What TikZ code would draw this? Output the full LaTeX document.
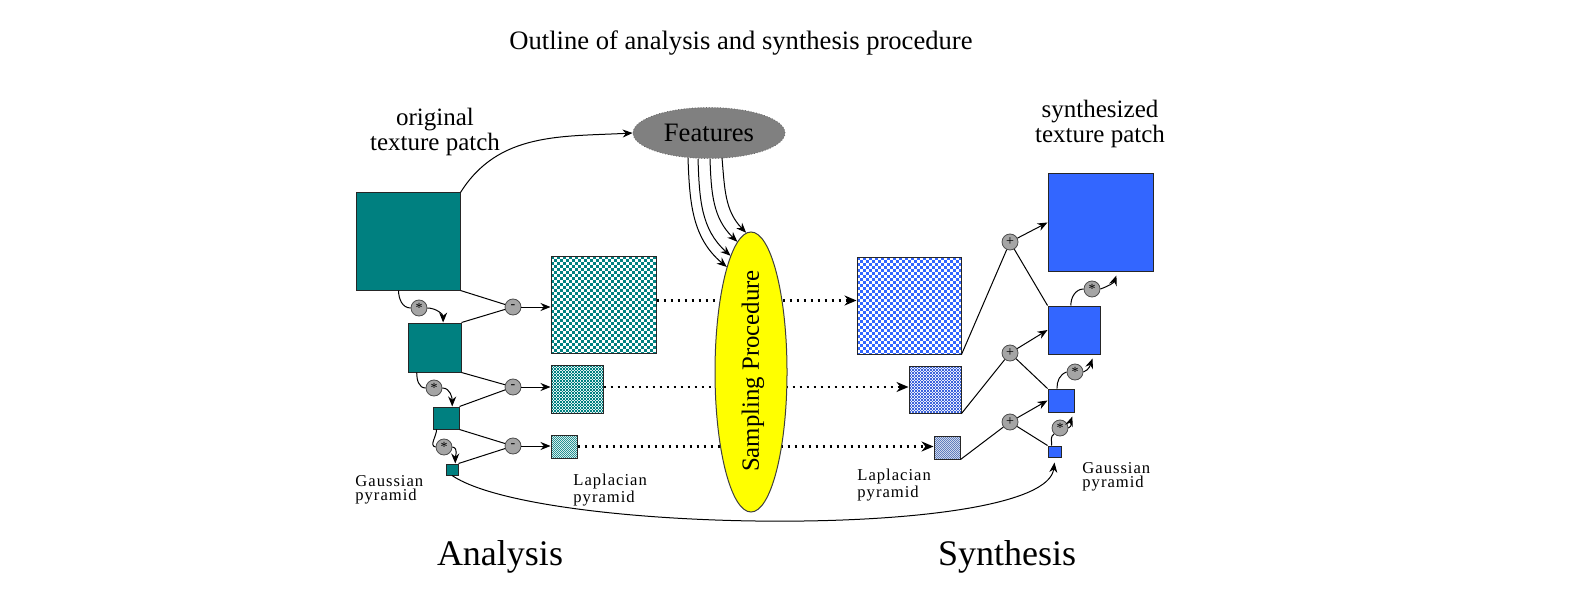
\documentclass[tikz,border=0pt]{standalone}
\usepackage{fontspec}
\setmainfont{Liberation Serif}
\newfontfamily\spacedfont[LetterSpace=6]{Liberation Serif}
\usetikzlibrary{calc,arrows.meta,shapes.geometric}
\definecolor{tealc}{RGB}{0,128,128}
\definecolor{bluec}{RGB}{51,102,255}
\definecolor{opgray}{RGB}{165,165,165}
\definecolor{featgray}{RGB}{128,128,128}
\definecolor{yel}{RGB}{255,255,0}
\definecolor{sl1c}{RGB}{60,100,220}
\definecolor{sl2c}{RGB}{95,125,190}
\tikzset{
  solidbox/.style={draw=black!85, line width=0.5pt, inner sep=0pt, fill=#1},
  % checker: count, square size (px), square colour, background
  chk/.style n args={4}{draw=black!85, line width=0.5pt, inner sep=0pt, fill=#4,
     path picture={
       \foreach \i in {0,...,#1}{
         \foreach \j in {0,...,#1}{
           \pgfmathtruncatemacro\chkpar{mod(\i+\j,2)}
           \ifnum\chkpar=0
             \fill[#3] ($(path picture bounding box.north west)+(\i*#2,\j*#2)$) rectangle ++(#2,#2);
           \fi
         }}}},
  op/.style={circle, draw=black!70, fill=opgray, minimum size=8pt, inner sep=0pt, font=\fontsize{7}{7}\selectfont},
  ln/.style={draw=black, line width=0.5pt},
  arr/.style={-{Stealth[length=5pt,width=4pt]}},
  dotl/.style={draw=black, line width=1.3pt, dash pattern=on 1.3pt off 2.2pt, -{Stealth[length=6pt,width=5pt]}},
  lbl/.style={inner sep=0pt, align=center},
  small/.style={inner sep=0pt, align=left, anchor=west, font=\spacedfont\fontsize{8.3}{7.2}\selectfont}
}
\begin{document}
\begin{tikzpicture}[x=0.5pt,y=-0.5pt]
\useasboundingbox (0,0) rectangle (1583,609);

% titles
\node[lbl, font=\fontsize{13.3}{15}\selectfont] (title) at (741,43) {Outline of analysis and synthesis procedure};
\node[lbl, font=\fontsize{12.5}{10}\selectfont] (otp) at (435,132) {original\\texture patch};
\node[lbl, font=\fontsize{12.5}{10}\selectfont] (stp) at (1100,124) {synthesized\\texture patch};
\node[lbl, font=\fontsize{18}{20}\selectfont] (ana) at (500,557) {Analysis};
\node[lbl, font=\fontsize{18}{20}\selectfont] (syn) at (1007,557) {Synthesis};
\node[small] (gl) at (355,490) {Gaussian\\pyramid};
\node[small] (ll) at (573,490) {Laplacian\\pyramid};
\node[small] (lr) at (857,485) {Laplacian\\pyramid};
\node[small] (gr) at (1082,477) {Gaussian\\pyramid};

% analysis Gaussian pyramid
\node[solidbox=tealc, minimum width=52pt, minimum height=48.5pt] (G0) at (408,241.5) {};
\node[solidbox=tealc, minimum width=26.5pt, minimum height=24.5pt] (G1) at (434.5,347.5) {};
\node[solidbox=tealc, minimum width=13pt, minimum height=11pt] (G2) at (446,418) {};
\node[solidbox=tealc, minimum width=6pt, minimum height=5.5pt] (G3) at (452,469.5) {};
% analysis Laplacian pyramid
\node[chk={35}{3}{tealc}{white}, minimum width=52.5pt, minimum height=48.5pt] (L0) at (603.5,304.5) {};
\node[chk={35}{1.5}{tealc}{tealc!12!white}, minimum width=26pt, minimum height=24pt] (L1) at (577,389) {};
\node[chk={26}{1}{tealc!85!white}{tealc!15!white}, minimum width=13pt, minimum height=11.5pt] (L2) at (564,446.5) {};
% synthesis Gaussian pyramid
\node[solidbox=bluec, minimum width=52.5pt, minimum height=48.5pt] (S0) at (1100.5,222.5) {};
\node[solidbox=bluec, minimum width=26pt, minimum height=24pt] (S1) at (1074,330) {};
\node[solidbox=bluec, minimum width=13pt, minimum height=11.5pt] (S2) at (1061,400.5) {};
\node[solidbox=bluec, minimum width=6.5pt, minimum height=5.5pt] (S3) at (1054.5,451.5) {};
% synthesis Laplacian pyramid
\node[chk={35}{3}{bluec}{white}, minimum width=52pt, minimum height=48.5pt] (SL0) at (909,305.5) {};
\node[chk={35}{1.5}{sl1c}{sl1c!12!white}, minimum width=26pt, minimum height=23.5pt] (SL1) at (935,389.5) {};
\node[chk={26}{1}{sl2c}{sl2c!30!white}, minimum width=13pt, minimum height=11.5pt] (SL2) at (947,447.5) {};

% operators
\node[op] (st0) at (419,308) {\raisebox{-1pt}{*}};
\node[op] (st1) at (434,388) {\raisebox{-1pt}{*}};
\node[op] (st2) at (444,447) {\raisebox{-1pt}{*}};
\node[op] (m0) at (513,307) {-};
\node[op] (m1) at (513,387) {-};
\node[op] (m2) at (513,446) {-};
\node[op] (p0) at (1010,242) {+};
\node[op] (p1) at (1010,353) {+};
\node[op] (p2) at (1010,422) {+};
\node[op] (ss0) at (1092,289) {\raisebox{-1pt}{*}};
\node[op] (ss1) at (1075,372) {\raisebox{-1pt}{*}};
\node[op] (ss2) at (1060,428) {\raisebox{-1pt}{*}};

% dotted transfers
\draw[dotl] ([yshift=2pt]L0.east) -- ([yshift=2pt]L0.east -| SL0.west);
\draw[dotl] ([yshift=1pt]L1.east) -- ([yshift=1pt]L1.east -| SL1.west);
\draw[dotl] (L2.east) -- (L2.east -| SL2.west);

% sampling and features
\node[ellipse, draw=black!75, line width=0.5pt, fill=yel, minimum width=36pt, minimum height=140pt, inner sep=0pt] (S) at (751,372) {};
\node[rotate=90, inner sep=0pt, font=\fontsize{12.4}{14}\selectfont] (Stext) at (753,371) {Sampling Procedure};
\node[ellipse, draw=black!60, densely dotted, fill=featgray, minimum width=76pt, minimum height=25.5pt, inner sep=0pt, font=\fontsize{13.3}{15}\selectfont] (F) at (709,133) {Features};

\draw[ln,arr] (G0.north east) to[out=58,in=183] (F.west);
\draw[ln,arr] ($(F.south)+(-21,-1)$) to[out=-88,in=140] (S.103);
\draw[ln,arr] ($(F.south)+(-11,0)$) to[out=-88,in=138] (S.100);
\draw[ln,arr] ($(F.south)+(1,0)$) to[out=-88,in=136] (S.96);
\draw[ln,arr] ($(F.south)+(13,-1)$) to[out=-85,in=134] (S.92);

% analysis connectors
\draw[ln] ($(G0.south west)!0.41!(G0.south east)$) to[out=-90,in=180] (st0.west);
\draw[ln,arr] (st0.east) to[out=0,in=90] ($(G1.north west)!0.66!(G1.north east)$);
\draw[ln] ($(G1.south west)!0.17!(G1.south east)$) to[out=-90,in=180] (st1.west);
\draw[ln,arr] (st1.east) to[out=0,in=90] ($(G2.north west)!0.73!(G2.north east)$);
\draw[ln] ($(G2.south west)!0.15!(G2.south east)$) to[out=-90,in=170] (st2.west);
\draw[ln,arr] (st2.east) to[out=-10,in=90] ($(G3.north west)!0.75!(G3.north east)$);

\draw[ln] (G0.south east) -- (m0);
\draw[ln] (G1.north east) -- (m0);
\draw[ln,arr] (m0) -- (m0 -| L0.west);
\draw[ln] (G1.south east) -- (m1);
\draw[ln] (G2.north east) -- (m1);
\draw[ln,arr] (m1) -- (m1 -| L1.west);
\draw[ln] (G2.south east) -- (m2);
\draw[ln] (G3.north east) -- (m2);
\draw[ln,arr] (m2) -- (m2 -| L2.west);

% synthesis connectors
\draw[ln] (SL0.south east) -- (p0);
\draw[ln] (S1.north west) -- (p0);
\draw[ln,arr] (p0) -- (S0.west);
\draw[ln] (SL1.south east) -- (p1);
\draw[ln] (S2.north west) -- (p1);
\draw[ln,arr] (p1) -- (S1.west);
\draw[ln] (SL2.south east) -- (p2);
\draw[ln] (S3.north west) -- (p2);
\draw[ln,arr] (p2) -- (S2.west);

\draw[ln] ($(S1.north west)!0.44!(S1.north east)$) to[out=90,in=180] (ss0.west);
\draw[ln,arr] (ss0.east) to[out=20,in=-110] ($(S0.south west)!0.65!(S0.south east)+(0,4)$);
\draw[ln] ($(S2.north west)!0.35!(S2.north east)$) to[out=90,in=200] (ss1.west);
\draw[ln,arr] (ss1.east) to[out=20,in=-110] ($(S1.south west)!0.85!(S1.south east)+(0,4)$);
\draw[ln] ($(S3.north west)!0.3!(S3.north east)$) to[out=90,in=210] (ss2.south west);
\draw[ln,arr] (ss2.east) to[out=20,in=-110] ($(S2.south west)!0.92!(S2.south east)+(0,4)$);

% coarsest level bypass
\draw[ln,arr] (G3.south) .. controls (540,535) and (1045,540) .. ($(S3.south)+(0,5)$);
\end{tikzpicture}
\end{document}
